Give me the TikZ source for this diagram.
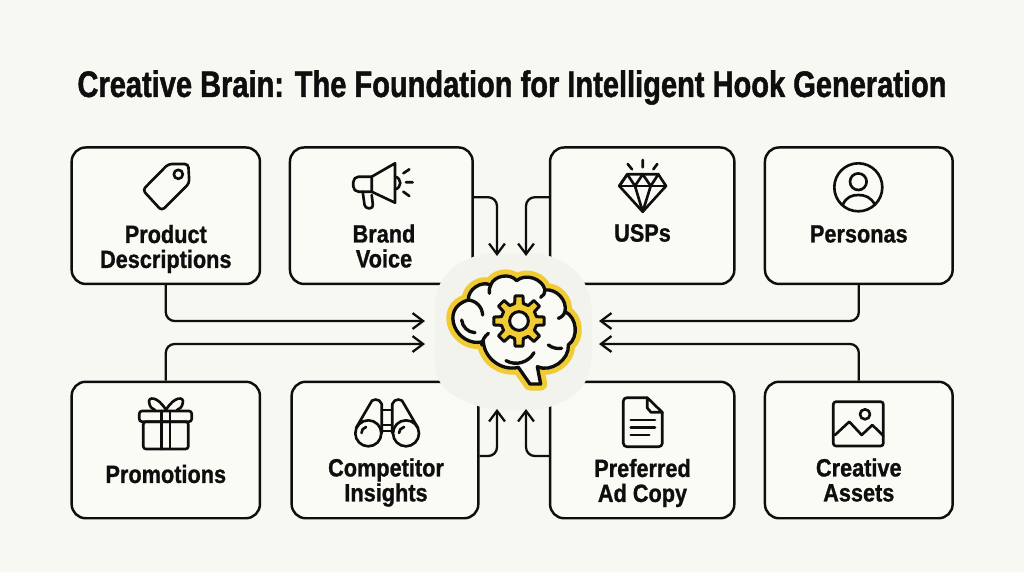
\documentclass[tikz,border=0pt]{standalone}
\usepackage{fontspec}
\setmainfont[FakeStretch=0.87, BoldFeatures={FakeBold=1}]{Liberation Sans}
\newfontfamily\titlefont[FakeStretch=0.787, BoldFeatures={FakeBold=1.2}]{Liberation Sans}
\usetikzlibrary{arrows.meta}
\definecolor{paper}{HTML}{F8F8F2}
\definecolor{boxfill}{HTML}{FBFBF6}
\definecolor{halo}{HTML}{F3F3EE}
\definecolor{ink}{HTML}{0E0E0E}
\definecolor{gold}{HTML}{F0CB33}

\begin{document}
\begin{tikzpicture}[
  x=0.02cm, y=-0.02cm,
  box/.style={draw=ink, fill=boxfill, line width=1.4pt, rounded corners=8pt,
              minimum height=2.73cm},
  lbl/.style={font=\fontsize{14.2}{14.2}\selectfont\bfseries, text=ink, align=center, inner sep=0pt},
  flow/.style={draw=ink, line width=1.3pt, rounded corners=5pt,
               -{Straight Barb[length=6pt,width=9pt,line width=1.3pt]}},
  icon/.style={draw=ink, line width=1.5pt, line join=round, line cap=round},
]
  \useasboundingbox (0,0) rectangle (1024,572);
  \fill[paper] (0,0) rectangle (1024,572);

  \node[font=\fontsize{21}{21}\selectfont\titlefont\bfseries, text=ink, inner sep=0pt] (title) at (512,87.5)
    {Creative Brain: The Foundation for Intelligent Hook Generation};

  % boxes
  \node[box, minimum width=3.766cm] (prod) at (165.8,215.7) {};
  \node[box, minimum width=3.654cm] (brand) at (381.3,215.7) {};
  \node[box, minimum width=3.686cm] (usps) at (642.2,215.7) {};
  \node[box, minimum width=3.754cm] (pers) at (858.8,215.7) {};
  \node[box, minimum width=3.766cm] (promo) at (165.8,450) {};
  \node[box, minimum width=3.734cm] (comp) at (385,450) {};
  \node[box, minimum width=3.686cm] (copy) at (642.2,450) {};
  \node[box, minimum width=3.754cm] (assets) at (858.8,450) {};

  % labels
  \node[lbl] (prodl) at (165.8,249) {Product\\Descriptions};
  \node[lbl] (brandl) at (384,246) {Brand\\Voice};
  \node[lbl] (uspsl) at (642.5,233) {USPs};
  \node[lbl] (persl) at (858.8,234) {Personas};
  \node[lbl] (promol) at (165.8,474) {Promotions};
  \node[lbl] (compl) at (386,482.5) {Competitor\\Insights};
  \node[lbl] (copyl) at (642.5,483) {Preferred\\Ad Copy};
  \node[lbl] (assetsl) at (858.8,480) {Creative\\Assets};

  % hub, covers the inner corners of the boxes
  \fill[halo] plot[smooth cycle, tension=.7] coordinates
    {(440,284) (473,257) (513,254) (552,257) (585,284) (592,333) (585,382) (552,406) (513,410) (478,406) (440,382) (435,333)};
  \node[inner sep=0pt, minimum size=1cm] (hub) at (513,333) {};

  % connector ends
  \coordinate (inprod) at (425,321);
  \coordinate (inpromo) at (425,344);
  \coordinate (inpers) at (599,321);
  \coordinate (inassets) at (599,344);
  \coordinate (inbrand) at (497,256);
  \coordinate (inusps) at (526,256);
  \coordinate (incomp) at (497,409);
  \coordinate (incopy) at (526,409);

  \draw[flow] (prod.south) |- (inprod);
  \draw[flow] (promo.north) |- (inpromo);
  \draw[flow] (pers.south) |- (inpers);
  \draw[flow] (assets.north) |- (inassets);
  \draw[flow] ([yshift=0.37cm]brand.east) -| (inbrand);
  \draw[flow] ([yshift=0.37cm]usps.west) -| (inusps);
  \draw[flow] ([yshift=-0.12cm]comp.east) -| (incomp);
  \draw[flow] ([yshift=-0.12cm]copy.west) -| (incopy);

  % tag
  \draw[icon, rounded corners=2pt] (168.3,164) -- (188.3,164) -- (189.3,183.3) -- (161.7,210.7) -- (142.7,190) -- cycle;
  \draw[icon] (178.3,174.3) circle (4.5);

  % megaphone
  \draw[icon, rounded corners=3pt] (371.7,176.7) -- (353.3,176.7) -- (353.3,191.7) -- (371.7,191.7);
  \draw[icon] (371.7,176.7) -- (371.7,191.7) (371.7,176.7) -- (395,163.3) -- (395,202.7) -- (371.7,191.7);
  \draw[icon, rounded corners=2pt] (362.7,191.7) -- (365,208.3) -- (373.3,208.3) -- (371.7,195);
  \draw[icon] (395,176.7) .. controls (402,178) and (402,188) .. (395,189.3);
  \draw[icon] (403.3,173.3) -- (409.3,169.3) (406,182.3) -- (412.7,182.3) (403.3,191.7) -- (409.3,196);

  % diamond
  \draw[icon] (627.3,174.3) -- (658.3,174.3) -- (666,186) -- (642.7,211.7) -- (619.3,186) -- cycle;
  \draw[icon] (619.3,186) -- (666,186);
  \draw[icon] (619.3,186) -- (627.3,174.3) -- (635,186) -- (642.7,174.3) -- (650.7,186) -- (658.3,174.3);
  \draw[icon] (635,186) -- (642.7,211.7) -- (650.7,186);
  \draw[icon] (642.7,160) -- (642.7,167.3) (627.7,164) -- (632,169.3) (657.3,164) -- (653.3,169.3);

  % person
  \draw[icon] (858.3,187.3) circle (24);
  \draw[icon] (858.3,181.7) circle (8.3);
  \draw[icon] (842.7,205) .. controls (846,197) and (852,195) .. (858.3,195) .. controls (865,195) and (871,197) .. (875,205);

  % gift
  \draw[icon, rounded corners=1.5pt] (139.3,411) rectangle (191.7,421.7);
  \draw[icon, rounded corners=1.5pt] (143.3,421.7) rectangle (188.3,449);
  \draw[icon] (161.7,411) -- (161.7,449) (170,411) -- (170,449);
  \draw[icon] (166,410) .. controls (158,396) and (147,396) .. (149.3,403.3) .. controls (150,407) and (152,409) .. (155,410);
  \draw[icon] (166,410) .. controls (174,396) and (185,396) .. (182.7,403.3) .. controls (182,407) and (180,409) .. (177,410);

  % binoculars
  \draw[icon] (368.3,433.3) circle (13) (406,433.3) circle (13);
  \draw[icon] (356,428) -- (370,404) .. controls (371,398) and (380,398) .. (381.7,404) -- (381.7,433);
  \draw[icon] (418,428) -- (404,404) .. controls (403,398) and (394,398) .. (392.3,404) -- (392.3,433);
  \draw[icon] (381.7,410) -- (392.3,410) (381.7,425) -- (392.3,425) (381.7,431) -- (392.3,431);
  \draw[icon] (361.5,433) .. controls (361.5,430) and (363,428) .. (366,427);
  \draw[icon] (399,433) .. controls (399,430) and (401,428) .. (404,427);

  % document
  \draw[icon, rounded corners=2pt] (647.3,397.7) -- (623.3,397.7) -- (623.3,446.7) -- (662.3,446.7) -- (662.3,412.3);
  \draw[icon] (647.3,397.7) -- (662.3,412.3) -- (651,412.3) -- (647.3,408) -- cycle;
  \draw[icon] (630.7,420) -- (655,420) (630.7,427.7) -- (655,427.7) (630.7,435) -- (649.3,435);

  % image
  \draw[icon, rounded corners=1.5pt] (833.3,401.7) rectangle (883.3,446);
  \draw[icon] (865,414.3) circle (5);
  \draw[icon] (835,435) -- (849.3,421.7) -- (861.7,435) -- (872.3,425) -- (883.3,435.7);

  % brain
  \begin{scope}[shift={(420,240)}, x=0.00667cm, y=-0.00667cm]
    \def\brainpath{(295,382) to[bend left=50] (190,305) .. controls (110,325) and (55,205) .. (145,180)
      to[bend left=60] (212,135) to[bend left=60] (290,122) to[bend left=60] (375,150)
      to[bend left=55] (435,215) to[bend left=60] (445,315) to[bend left=60] (352,380)
      -- (362,432) -- (330,432) -- cycle}
    \draw[draw=gold, fill=gold, line width=7.5pt, line join=round] \brainpath;
    \draw[icon, fill=boxfill, line width=1.9pt] \brainpath;
    \draw[icon, line width=1.9pt] (212,135) to[bend right=15] (208,160);
    \draw[icon, line width=1.9pt] (145,180) to[bend left=40] (188,225);
    \draw[icon, line width=1.9pt] (125,240) to[bend right=40] (165,278);
    \draw[icon, line width=1.9pt] (205,280) to[bend right=20] (185,315);
    \draw[icon, line width=1.9pt] (342,338) to[bend left=45] (258,362);
    \draw[icon, line width=1.9pt] (385,315) to[bend right=20] (425,325);
    \draw[icon, line width=1.9pt] (435,215) to[bend left=25] (415,235);
    \draw[icon, line width=1.9pt] (375,150) to[bend left=30] (362,172);
    % gear
    \begin{scope}[shift={(297,243)}]
      \draw[icon, fill=gold, line width=1.7pt] (-14:54)
        \foreach \ang in {0,45,...,315} {-- (\ang-14:54) -- (\ang-9:76) -- (\ang+9:76) -- (\ang+14:54)} -- cycle;
      \draw[icon, fill=boxfill, line width=1.7pt] (0,0) circle (28);
    \end{scope}
  \end{scope}
\end{tikzpicture}
\end{document}
